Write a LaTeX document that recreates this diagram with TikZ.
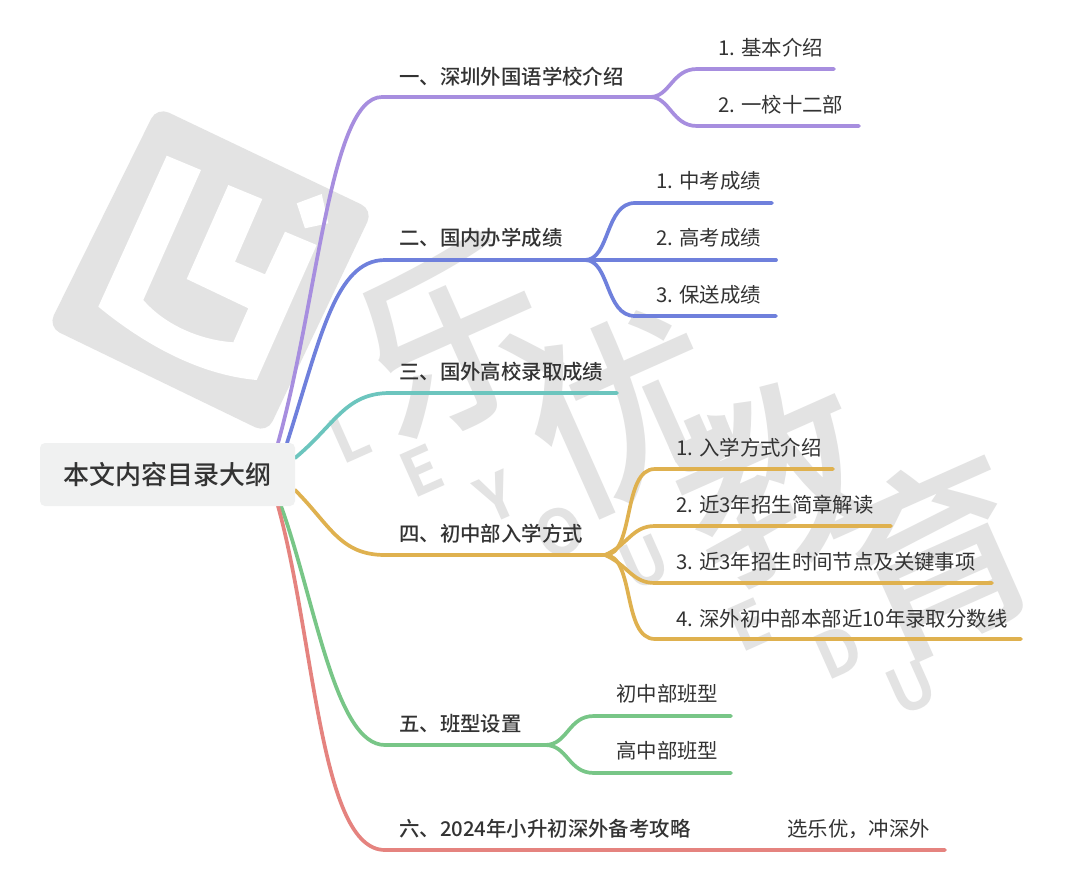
\documentclass[tikz,border=0pt]{standalone}
\usepackage{fontspec}
\setmainfont{Noto Sans CJK SC}
\newfontfamily\medfont{Noto Sans CJK SC Medium}
\newfontfamily\wmfont{Noto Sans CJK SC Medium}
\newfontfamily\wmlat{Noto Sans CJK SC Bold}
\definecolor{wm}{HTML}{E3E3E3}
\definecolor{ink}{HTML}{333333}
\definecolor{rootbg}{HTML}{F0F1F1}
\definecolor{cpur}{HTML}{A78EDF}
\definecolor{cblu}{HTML}{6F80DC}
\definecolor{ctea}{HTML}{6CC5BE}
\definecolor{cgol}{HTML}{DFB14F}
\definecolor{cgre}{HTML}{78C687}
\definecolor{cred}{HTML}{E5837F}
\tikzset{
  branch/.style={line width=3.7pt,line cap=round,line join=round},
  lone/.style={anchor=west,inner sep=0pt,text=ink,font=\fontsize{20.4}{24}\selectfont\medfont},
  ltwo/.style={anchor=west,inner sep=0pt,text=ink,font=\fontsize{20.4}{24}\selectfont},
  wmchar/.style={rotate=24,text=wm,inner sep=0pt,font=\fontsize{195}{195}\selectfont\wmfont},
  wmlet/.style={rotate=24,text=wm,inner sep=0pt,font=\fontsize{62}{62}\selectfont\wmlat},
}
\begin{document}
\begin{tikzpicture}[x=1pt,y=-1pt]
\useasboundingbox (0,0) rectangle (1080,889);
\fill[white] (0,0) rectangle (1080,889);
% watermark logo
\fill[wm,rounded corners=13pt] (157,107) -- (373,210) -- (267,433) -- (48,327) -- cycle;
\fill[white] (166.7,155.7) -- (201,170) -- (143.3,300) .. controls (165,325) and (200,340) .. (233.3,342.3)
  -- (248.3,308.3) -- (186.7,279) -- (228.3,185) -- (262.3,199) -- (235,261.7) -- (265,274.3) -- (285,231.7) -- (316.7,245)
  -- (256.7,380) .. controls (200,375) and (145,345) .. (98.3,306.7) -- cycle;
\fill[white] (296.7,203.3) -- (321.7,194) -- (328.3,223.3) -- (305,228.3) -- cycle;
% watermark text
\node[wmchar] (w1) at (455,338) {乐};
\node[wmchar] (w2) at (625,410) {优};
\node[wmchar] (w3) at (775,480) {教};
\node[wmchar] (w4) at (935,555) {育};
\node[wmlet] (l1) at (350,437) {L};
\node[wmlet] (l2) at (422,471) {E};
\node[wmlet] (l3) at (497,497) {Y};
\node[wmlet] (l4) at (560,532) {O};
\node[wmlet] (l5) at (645,562) {U};
\node[wmlet] (l6) at (750,625) {E};
\node[wmlet] (l7) at (838,652) {D};
\node[wmlet] (l8) at (912,687) {U};
% anchors
\coordinate (rp) at (278,443);
\coordinate (rb) at (287,443);
\coordinate (rt) at (295,458);
\coordinate (rg) at (295,490);
\coordinate (rv) at (281,506);
\coordinate (rr) at (278,506);
\coordinate (j1) at (650,97);
\coordinate (j2) at (585,260);
\coordinate (j3) at (617,393);
\coordinate (j4) at (605,555);
\coordinate (j5) at (545,745);
\coordinate (j6) at (945,850);
\coordinate (e11) at (834,69);
\coordinate (e12) at (859,126);
\coordinate (e21) at (772,203);
\coordinate (e22) at (776,260);
\coordinate (e23) at (776,316);
\coordinate (e41) at (833,469);
\coordinate (e42) at (891,526);
\coordinate (e43) at (992,583);
\coordinate (e44) at (1021,639);
\coordinate (e51) at (731,716);
\coordinate (e52) at (731,773);
% connectors
\draw[branch,cpur] (rp) .. controls (318,300) and (330,97) .. (382,97) -- (j1);
\draw[branch,cpur] (j1) .. controls (670,97) and (672,69) .. (697,69) -- (e11);
\draw[branch,cpur] (j1) .. controls (670,97) and (672,126) .. (697,126) -- (e12);
\draw[branch,cblu] (rb) .. controls (320,340) and (335,260) .. (385,260) -- (j2);
\draw[branch,cblu] (j2) .. controls (610,260) and (605,203) .. (635,203) -- (e21);
\draw[branch,cblu] (j2) -- (e22);
\draw[branch,cblu] (j2) .. controls (610,260) and (605,316) .. (635,316) -- (e23);
\draw[branch,ctea] (rt) .. controls (335,425) and (345,393) .. (390,393) -- (j3);
\draw[branch,cgol] (rg) .. controls (330,525) and (340,555) .. (385,555) -- (j4);
\draw[branch,cgol] (j4) .. controls (635,555) and (622,469) .. (655,469) -- (e41);
\draw[branch,cgol] (j4) .. controls (628,545) and (632,526) .. (655,526) -- (e42);
\draw[branch,cgol] (j4) .. controls (628,565) and (632,583) .. (655,583) -- (e43);
\draw[branch,cgol] (j4) .. controls (635,555) and (622,639) .. (655,639) -- (e44);
\draw[branch,cgre] (rv) .. controls (315,600) and (335,745) .. (385,745) -- (j5);
\draw[branch,cgre] (j5) .. controls (568,745) and (568,716) .. (594,716) -- (e51);
\draw[branch,cgre] (j5) .. controls (568,745) and (568,773) .. (594,773) -- (e52);
\draw[branch,cred] (rr) .. controls (315,640) and (320,850) .. (385,850) -- (j6);
% root
\node[fill=rootbg,rounded corners=5pt,minimum width=255pt,minimum height=63pt,inner sep=0pt,text=ink,font=\fontsize{26}{30}\selectfont\medfont] (root) at (167.5,474.5) {本文内容目录大纲};
% labels
\node[lone] (a1) at (399,77) {一、深圳外国语学校介绍};
\node[lone] (a2) at (399,238) {二、国内办学成绩};
\node[lone] (a3) at (399,372) {三、国外高校录取成绩};
\node[lone] (a4) at (399,534) {四、初中部入学方式};
\node[lone] (a5) at (399,724) {五、班型设置};
\node[lone] (a6) at (399,829) {六、2024年小升初深外备考攻略};
\node[ltwo] (b11) at (718,48) {1. 基本介绍};
\node[ltwo] (b12) at (718,105) {2. 一校十二部};
\node[ltwo] (b21) at (656,181) {1. 中考成绩};
\node[ltwo] (b22) at (656,238) {2. 高考成绩};
\node[ltwo] (b23) at (656,295) {3. 保送成绩};
\node[ltwo] (b41) at (676,448) {1. 入学方式介绍};
\node[ltwo] (b42) at (676,505) {2. 近3年招生简章解读};
\node[ltwo] (b43) at (676,562) {3. 近3年招生时间节点及关键事项};
\node[ltwo] (b44) at (676,619) {4. 深外初中部本部近10年录取分数线};
\node[ltwo] (b51) at (616,694) {初中部班型};
\node[ltwo] (b52) at (616,751) {高中部班型};
\node[ltwo] (b61) at (787,829) {选乐优，冲深外};
\end{tikzpicture}
\end{document}
